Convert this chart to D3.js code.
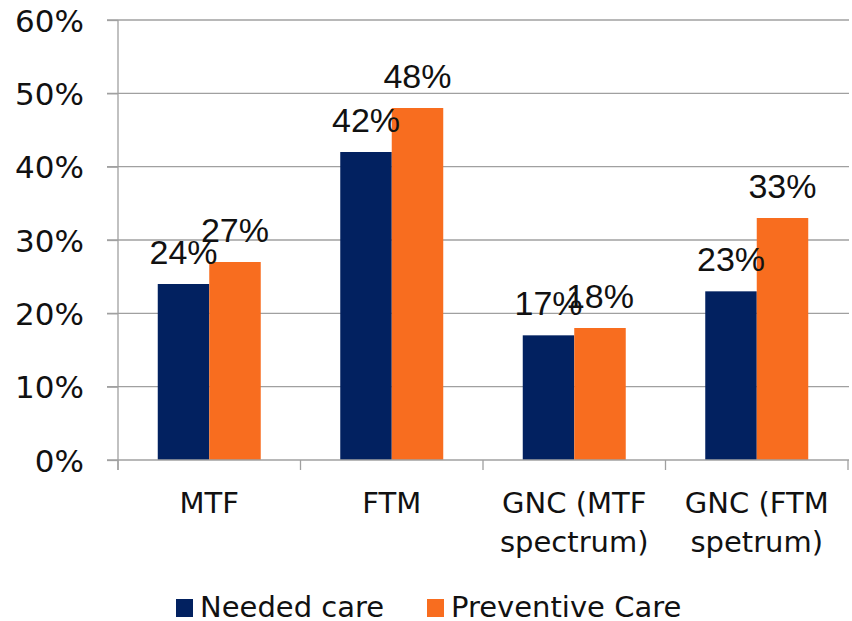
<!DOCTYPE html>
<html>
<head>
<meta charset="utf-8">
<script src="https://cdn.jsdelivr.net/npm/d3@7"></script>
<style>
  html, body { margin: 0; padding: 0; background: #fff; }
  svg { display: block; }
</style>
</head>
<body>
<svg id="chart" width="852" height="621"></svg>
<script>
// Survey results: share of respondents by group
const categories = [["MTF"], ["FTM"], ["GNC (MTF", "spectrum)"], ["GNC (FTM", "spetrum)"]];
const categoryKeys = ["MTF", "FTM", "GNC-MTF", "GNC-FTM"];
const seriesNames = ["Needed care", "Preventive Care"];
const neededCare = [24, 42, 17, 23];
const preventiveCare = [27, 48, 18, 33];
const yTicks = [0, 10, 20, 30, 40, 50, 60];

const seriesValues = [neededCare, preventiveCare];
const colors = ["#022160", "#F86D1F"];
const axisFont = "'DejaVu Sans', sans-serif";
const labelFont = "'Liberation Sans', Arial, sans-serif";

const svg = d3.select("#chart");
const plot = { left: 118, right: 848, top: 20, bottom: 460 };

const y = d3.scaleLinear().domain([0, 60]).range([plot.bottom, plot.top]);
const x0 = d3.scaleBand().domain(categoryKeys).range([plot.left, plot.right]).paddingInner(0).paddingOuter(0);
const x1 = d3.scaleBand().domain(seriesNames).range([0, x0.bandwidth()]).paddingInner(0).paddingOuter(0.772);

// horizontal gridlines with short ticks left of the axis
const grid = svg.append("g").attr("class", "grid");
grid.selectAll("line")
  .data(yTicks.filter(t => t > 0))
  .join("line")
  .attr("x1", plot.left - 11)
  .attr("x2", plot.right + 1)
  .attr("y1", d => y(d))
  .attr("y2", d => y(d))
  .attr("stroke", "#a0a0a0")
  .attr("stroke-width", 1.3);

// y axis
const yAxis = d3.axisLeft(y).tickValues(yTicks).tickSize(11).tickFormat(d => d + "%");
const gy = svg.append("g").attr("transform", `translate(${plot.left},0)`).call(yAxis);
gy.select(".domain").remove();
gy.selectAll(".tick line").attr("stroke", "#a0a0a0").attr("stroke-width", 1.3);
gy.selectAll(".tick text")
  .attr("x", -34)
  .attr("dy", "0.36em")
  .attr("fill", "#111")
  .style("font-family", axisFont)
  .style("font-size", "31px");
svg.append("line")
  .attr("x1", plot.left).attr("x2", plot.left)
  .attr("y1", y(60)).attr("y2", plot.bottom + 10)
  .attr("stroke", "#a0a0a0").attr("stroke-width", 1.3);

// bars
const groups = svg.append("g").selectAll("g")
  .data(categoryKeys)
  .join("g")
  .attr("transform", d => `translate(${x0(d)},0)`);

groups.selectAll("rect")
  .data((d, i) => seriesNames.map((s, j) => ({ s, j, v: seriesValues[j][i] })))
  .join("rect")
  .attr("x", d => x1(d.s))
  .attr("width", x1.bandwidth())
  .attr("y", d => y(d.v))
  .attr("height", d => plot.bottom - y(d.v))
  .attr("fill", d => colors[d.j]);

// x axis baseline and category boundary ticks
svg.append("line")
  .attr("x1", plot.left - 11).attr("x2", plot.right + 1)
  .attr("y1", plot.bottom).attr("y2", plot.bottom)
  .attr("stroke", "#a0a0a0").attr("stroke-width", 1.3);
const bounds = categoryKeys.map(k => x0(k)).concat([x0(categoryKeys[categoryKeys.length - 1]) + x0.bandwidth()]);
svg.append("g").selectAll("line")
  .data(bounds)
  .join("line")
  .attr("x1", d => d).attr("x2", d => d)
  .attr("y1", plot.bottom).attr("y2", plot.bottom + 10)
  .attr("stroke", "#a0a0a0").attr("stroke-width", 1.3);

// category labels (one or two lines)
svg.append("g").selectAll("text")
  .data(categoryKeys)
  .join("text")
  .attr("x", d => x0(d) + x0.bandwidth() / 2)
  .attr("y", 513)
  .attr("text-anchor", "middle")
  .attr("fill", "#111")
  .style("font-family", axisFont)
  .style("font-size", "29px")
  .each(function (d, i) {
    const t = d3.select(this);
    categories[i].forEach((line, k) => {
      t.append("tspan")
        .attr("x", x0(d) + x0.bandwidth() / 2)
        .attr("dy", k === 0 ? 0 : 39)
        .text(line);
    });
  });

// value labels above each bar
groups.selectAll("text.value")
  .data((d, i) => seriesNames.map((s, j) => ({ s, j, v: seriesValues[j][i] })))
  .join("text")
  .attr("class", "value")
  .attr("x", d => x1(d.s) + x1.bandwidth() / 2)
  .attr("y", d => y(d.v) - 20)
  .attr("text-anchor", "middle")
  .attr("fill", "#111")
  .style("font-family", labelFont)
  .style("font-size", "34px")
  .text(d => d.v + "%");

// legend
const legendX = [176, 427];
const legend = svg.append("g").selectAll("g")
  .data(seriesNames)
  .join("g")
  .attr("transform", (d, i) => `translate(${legendX[i]},599)`);
legend.append("rect")
  .attr("width", 17).attr("height", 18)
  .attr("fill", (d, i) => colors[i]);
legend.append("text")
  .attr("x", 24)
  .attr("y", 18)
  .attr("fill", "#111")
  .style("font-family", axisFont)
  .style("font-size", "29px")
  .text(d => d);
</script>
</body>
</html>
